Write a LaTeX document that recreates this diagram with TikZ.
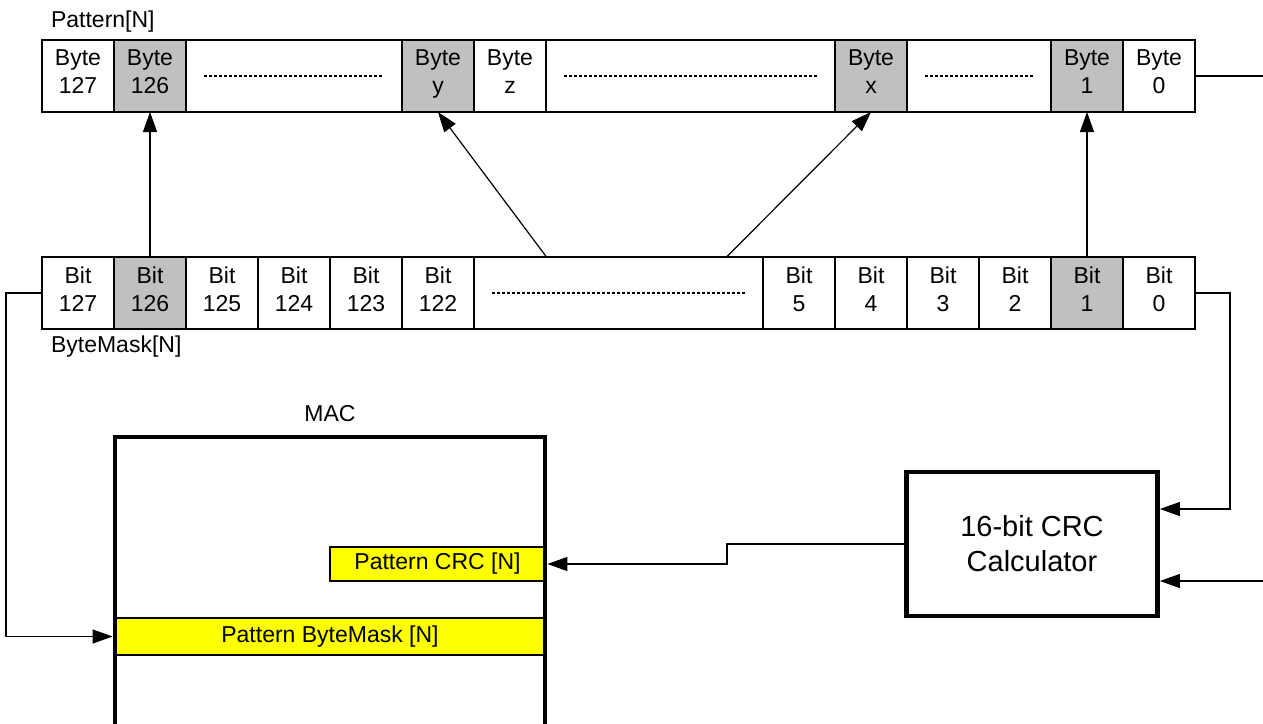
\documentclass[tikz,border=0pt]{standalone}
\usepackage{fontspec}
\setmainfont{Liberation Sans}
\usepackage{xcolor}
\usetikzlibrary{arrows.meta, positioning}

\definecolor{maskgray}{RGB}{192,192,194}
\definecolor{regyellow}{RGB}{255,255,0}
\newcommand{\cellfont}{\fontsize{11.5}{14}\selectfont}

\begin{document}
\begin{tikzpicture}[
    x=0.5pt, y=-0.5pt,
    cell/.style={draw, line width=0.7pt, minimum width=36pt, minimum height=36pt,
        inner sep=0pt, outer sep=0pt, align=center, font=\cellfont,
        execute at end node=\strut},
    sel/.style={cell, fill=maskgray},
    dotcell/.style={cell, minimum width=#1},
    dots/.style={line width=0.6pt, dash pattern=on 1.5pt off 1pt},
    reg/.style={draw, line width=0.6pt, fill=regyellow, inner sep=0pt, font=\cellfont},
    block/.style={draw, line width=2.4pt, inner sep=0pt, align=center},
    tag/.style={anchor=west, font=\cellfont},
    conn/.style={line width=0.6pt},
    arr/.style={conn, -{Triangle[length=10pt, width=7pt]}}
]
\useasboundingbox (0,0) rectangle (1263,723);
\clip (0,0) rectangle (1263,723);

% pattern bytes
\node[tag] (patname) at (44,22) {Pattern[N]};
\node[cell] (byte127) at (78,76) {Byte\\127};
\node[sel, right=0pt of byte127] (byte126) {Byte\\126};
\node[dotcell=108pt, right=0pt of byte126] (bgap1) {};
\node[sel, right=0pt of bgap1] (bytey) {Byte\\y};
\node[cell, right=0pt of bytey] (bytez) {Byte\\z};
\node[dotcell=144.5pt, right=0pt of bytez] (bgap2) {};
\node[sel, right=0pt of bgap2] (bytex) {Byte\\x};
\node[dotcell=72pt, right=0pt of bytex] (bgap3) {};
\node[sel, right=0pt of bgap3] (byte1) {Byte\\1};
\node[cell, right=0pt of byte1] (byte0) {Byte\\0};
\draw[dots] ([xshift=9pt]bgap1.west) -- ([xshift=-9pt]bgap1.east);
\draw[dots] ([xshift=9pt]bgap2.west) -- ([xshift=-9pt]bgap2.east);
\draw[dots] ([xshift=9pt]bgap3.west) -- ([xshift=-9pt]bgap3.east);

% byte mask bits
\node[cell] (bit127) at (78,293) {Bit\\127};
\node[sel, right=0pt of bit127] (bit126) {Bit\\126};
\node[cell, right=0pt of bit126] (bit125) {Bit\\125};
\node[cell, right=0pt of bit125] (bit124) {Bit\\124};
\node[cell, right=0pt of bit124] (bit123) {Bit\\123};
\node[cell, right=0pt of bit123] (bit122) {Bit\\122};
\node[dotcell=144.5pt, right=0pt of bit122] (bitgap) {};
\node[cell, right=0pt of bitgap] (bit5) {Bit\\5};
\node[cell, right=0pt of bit5] (bit4) {Bit\\4};
\node[cell, right=0pt of bit4] (bit3) {Bit\\3};
\node[cell, right=0pt of bit3] (bit2) {Bit\\2};
\node[sel, right=0pt of bit2] (bit1) {Bit\\1};
\node[cell, right=0pt of bit1] (bit0) {Bit\\0};
\draw[dots] ([xshift=9pt]bitgap.west) -- ([xshift=-9pt]bitgap.east);
\node[tag] (maskname) at (44,347) {ByteMask[N]};

% MAC registers
\node[reg, minimum width=107.5pt, minimum height=17pt] (crcreg) at (437.5,564) {Pattern CRC [N]};
\node[reg, minimum width=215pt, minimum height=18.5pt] (maskreg) at (330,636.5) {Pattern ByteMask [N]};
\node[block, minimum width=215pt, minimum height=181.5pt,
    label={[font=\cellfont, label distance=3pt]above:MAC}] (mac) at (330,618.5) {};

% CRC calculator
\node[block, minimum width=125.5pt, minimum height=72pt,
    font=\fontsize{14.5}{17.5}\selectfont] (crc) at (1032,544) {16-bit CRC\\Calculator};

\coordinate (outp) at (1263,76);
\coordinate (inp) at (1263,581);

% connections
\draw[arr] (bit126) -- (byte126);
\draw[arr] (bit1) -- (byte1);
\draw[arr] ([xshift=-36pt]bitgap.north) -- (bytey.south);
\draw[arr] ([xshift=54pt]bitgap.north) -- (bytex.south);
\draw[conn] (byte0) -- (outp);
\draw[arr] (bit127.west) -- ++(-36,0) |- (mac.west |- maskreg.west);
\draw[arr] (bit0.east) -- ++(35,0) |- ([yshift=17.5pt]crc.east);
\draw[arr] (inp) -- (crc.east |- inp);
\draw[arr] (crc.west) -- (727,544) |- (mac.east |- crcreg.east);

\end{tikzpicture}
\end{document}
